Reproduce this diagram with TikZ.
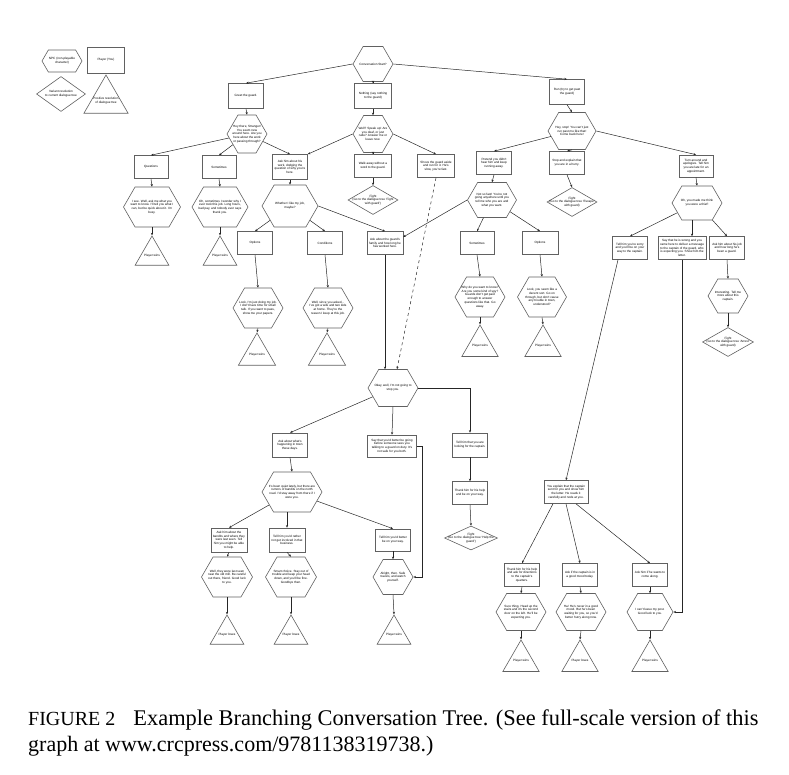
\documentclass[tikz,border=0pt]{standalone}
\usepackage{fontspec}
\setmainfont{Liberation Serif}
\setsansfont{Liberation Sans}
\usetikzlibrary{shapes.geometric,shapes.symbols,arrows.meta}
\newcommand{\tx}[2]{\makebox[0pt]{\parbox{#1pt}{\centering #2}}}
\begin{document}
\begin{tikzpicture}[x=1pt,y=-1pt,
 shp/.style={draw=black!62, line width=0.6pt, fill=white, font=\sffamily\fontsize{3.1}{3.7}\selectfont, inner sep=0pt},
 pbox/.style 2 args={shp, rectangle, minimum width=#1pt, minimum height=#2pt},
 hexa/.style 2 args={shp, signal, signal to=east and west, signal pointer angle=120, minimum width=#1pt, minimum height=#2pt},
 dia/.style 2 args={shp, diamond, minimum width=#1pt, minimum height=#2pt},
 tri/.style={shp, regular polygon, regular polygon sides=3, minimum size=#1pt},
 conn/.style={draw=black!85, line width=0.5pt, -{Stealth[length=2.6pt,width=2.2pt]}},
 captxt/.style={font=\fontsize{22}{26}\selectfont, anchor=base west, inner sep=0pt}
]
\useasboundingbox (0,0) rectangle (789,775);
% legend
\node[hexa={40}{22}] (Lhex) at (62,61) {\tx{28}{NPC (non-playable\\character)}};
\node[pbox={37}{26}] (Lbox) at (106,60) {\tx{32}{Player (You)}};
\node[dia={49}{35}] (Ldia) at (61,94) {\tx{40}{Variant resolution\\to current dialogue tree}};
\node[tri=51] (Ltri) at (106,100.5) {\tx{34}{Positive resolution\\of dialogue tree}};
% top level
\node[hexa={40}{35}] (hTop) at (373,64) {\tx{30}{Conversation Start?}};
\node[pbox={35}{25}] (bGreet) at (246,96) {\tx{30}{Greet the guard.}};
\node[pbox={37}{25}] (bMid) at (373,96) {\tx{32}{Nothing (say nothing\\to the guard)}};
\node[pbox={35}{25}] (bRight) at (567,92) {\tx{30}{Run (try to get past\\the guard)}};
\node[hexa={40}{38}] (hLeft) at (247,134) {\tx{30}{Hey there, Stranger! You seem new around here. Are you here about the work or passing through?}};
\node[hexa={40}{37}] (hMid) at (373,134) {\tx{30}{Well? Speak up! Are you deaf, or just rude? Answer me or leave now.}};
\node[hexa={48}{37}] (hRight) at (572,131) {\tx{34}{Hey, stop! You can't just run past me like that! Come back here!}};
% row 2
\node[pbox={34}{23}] (bQ) at (151,167) {\tx{30}{Questions}};
\node[pbox={34}{23}] (bS1) at (219,167) {\tx{30}{Sometimes}};
\node[pbox={35}{25}] (b290) at (290,167) {\tx{31}{Ask him about his work, dodging the question of why you're here.}};
\node[pbox={37}{23}] (bM2) at (373,166) {\tx{33}{Walk away without a word to the guard.}};
\node[pbox={37}{23}] (b436) at (436,166) {\tx{33}{Shove the guard aside and run for it. He's slow, you're fast.}};
\node[pbox={35}{23}] (b494) at (494,163) {\tx{31}{Pretend you didn't hear him and keep running away.}};
\node[pbox={35}{23}] (b567) at (567,163) {\tx{31}{Stop and explain that you are in a hurry.}};
\node[pbox={34}{22}] (b696) at (696,166) {\tx{30}{Turn around and apologize. Tell him you are late for an appointment.}};
% row 3
\node[hexa={57}{40}] (hQ) at (152,207) {\tx{44}{I see. Well, ask me what you want to know. I'll tell you what I can, but be quick about it. I'm busy.}};
\node[hexa={56}{40}] (hS1) at (220,207) {\tx{44}{Oh, sometimes I wonder why I ever took this job. Long hours, bad pay, and nobody ever says thank you.}};
\node[hexa={56}{42}] (h290) at (290,206) {\tx{40}{Whether I like my job, maybe?}};
\node[dia={50}{29}] (dMid) at (373,200) {\tx{50}{Fight\\(Go to the dialogue tree `Fight\\with guard')}};
\node[hexa={49}{35}] (h492) at (492,200) {\tx{37}{Not so fast! You're not going anywhere until you tell me who you are and what you want.}};
\node[dia={50}{29}] (dRight) at (572,202) {\tx{50}{Fight\\(Go to the dialogue tree `Escape'\\with guard)}};
\node[hexa={50}{34}] (h697) at (697,203) {\tx{36}{Oh, you made me think you were a thief!}};
\node[tri=39] (tQ) at (152,255.5) {\tx{30}{Player wins}};
\node[tri=39] (tS1) at (220,255.5) {\tx{30}{Player wins}};
% row 4
\node[pbox={35}{23}] (bOpt) at (255,243) {\tx{30}{Options}};
\node[pbox={35}{23}] (bCond) at (325,243) {\tx{30}{Conditions}};
\node[pbox={36}{23}] (b385) at (385,243) {\tx{32}{Ask about the guard's family and how long he has worked here.}};
\node[pbox={34}{23}] (bSom2) at (477,243) {\tx{30}{Sometimes}};
\node[pbox={36}{23}] (bOpt2) at (540,243) {\tx{30}{Options}};
\node[pbox={35}{23}] (b630) at (630,248) {\tx{31}{Tell him you're sorry and you'll be on your way to the captain.}};
\node[pbox={48}{23}] (b682) at (682,248) {\tx{44}{Say that he is wrong and you came here to deliver a message to the captain of the guard, who is expecting you. Show him the letter.}};
\node[pbox={35}{23}] (b727) at (727,248) {\tx{31}{Ask him about his job and how long he's been a guard.}};
% row 5
\node[hexa={50}{40}] (hOpt) at (258,308) {\tx{38}{Look, I'm just doing my job. I don't have time for small talk. If you want to pass, show me your papers.}};
\node[hexa={50}{40}] (hCond) at (328,308) {\tx{38}{Well, since you asked... I've got a wife and two kids at home. They're the reason I keep at this job.}};
\node[hexa={50}{40}] (hSom2) at (480,297) {\tx{38}{Why do you want to know? Are you some kind of spy? Guards don't get paid enough to answer questions like that. Go away.}};
\node[hexa={49}{40}] (hOpt2) at (542,297) {\tx{37}{Look, you seem like a decent sort. Go on through, but don't cause any trouble in town, understood?}};
\node[hexa={40}{34}] (h728) at (728,296) {\tx{30}{Interesting. Tell me more about this captain.}};
\node[dia={51}{29}] (d728) at (728,342) {\tx{52}{Fight\\(Go to the dialogue tree `Arrest'\\with guard)}};
\node[tri=43] (tOpt) at (257,354.5) {\tx{30}{Player wins}};
\node[tri=43] (tCond) at (327,354.5) {\tx{30}{Player wins}};
\node[tri=42] (tSom2) at (480,346) {\tx{30}{Player wins}};
\node[tri=42] (tOpt2) at (543,346) {\tx{30}{Player wins}};
% central
\node[hexa={50}{37}] (chex) at (393,388) {\tx{38}{Okay, well, I'm not going to\\stop you.}};
% lower
\node[pbox={35}{24}] (b290L) at (290,445) {\tx{31}{Ask about what's happening in town these days.}};
\node[pbox={49}{22}] (b392L) at (392,446) {\tx{45}{Say that you'd better be going before someone sees you talking to a guard on duty. It's not safe for you both.}};
\node[pbox={35}{24}] (b470) at (470,445) {\tx{31}{Tell him that you are looking for the captain.}};
\node[pbox={35}{23}] (b470b) at (470,493) {\tx{31}{Thank him for his help and be on your way.}};
\node[dia={53}{24}] (d470) at (471,538) {\tx{54}{Fight\\(Go to the dialogue tree `Help the\\guard')}};
\node[hexa={60}{40}] (h292) at (292,492) {\tx{47}{It's been quiet lately, but there are rumors of bandits on the north road. I'd stay away from there if I were you.}};
\node[pbox={36}{24}] (b229) at (229,540) {\tx{32}{Ask him about the bandits and where they were last seen. Tell him you might be able to help.}};
\node[pbox={36}{24}] (b287) at (287,540) {\tx{32}{Tell him you'd rather not get involved in that business.}};
\node[pbox={35}{22}] (b393) at (393,540) {\tx{31}{Tell him you'd better be on your way.}};
\node[hexa={51}{40}] (h227) at (227,577) {\tx{39}{Well, they were last seen near the old mill. Be careful out there, friend. Good luck to you.}};
\node[hexa={51}{40}] (h291) at (291,577) {\tx{39}{Smart choice. Stay out of trouble and keep your head down, and you'll be fine. Goodbye then.}};
\node[hexa={40}{35}] (h393) at (393,577) {\tx{30}{Alright, then. Safe travels, and watch yourself.}};
\node[tri=39] (t227) at (227,634.5) {\tx{30}{Player loses}};
\node[tri=39] (t291) at (291,634.5) {\tx{30}{Player loses}};
\node[tri=39] (t394) at (394,634.5) {\tx{30}{Player wins}};
\node[pbox={44}{23}] (b566) at (566,492) {\tx{40}{You explain that the captain sent for you and show him the letter. He reads it carefully and nods at you.}};
\node[pbox={35}{23}] (b522) at (522,575) {\tx{31}{Thank him for his help and ask for directions to the captain's quarters.}};
\node[pbox={35}{23}] (b580) at (580,575) {\tx{31}{Ask if the captain is in a good mood today.}};
\node[pbox={35}{23}] (b650) at (650,575) {\tx{31}{Ask him if he wants to come along.}};
\node[hexa={50}{37}] (h521) at (521,612) {\tx{38}{Sure thing. Head up the stairs and it's the second door on the left. He'll be expecting you.}};
\node[hexa={50}{37}] (h581) at (581,612) {\tx{38}{Ha! He's never in a good mood. But he's been waiting for you, so you'd better hurry along now.}};
\node[hexa={46}{37}] (h650) at (650,612) {\tx{36}{I can't leave my post. Good luck to you.}};
\node[tri=42] (t521) at (521,661) {\tx{30}{Player wins}};
\node[tri=42] (t580) at (580,661) {\tx{30}{Player loses}};
\node[tri=42] (t650) at (650,661) {\tx{30}{Player wins}};
% connectors
\draw[conn] (hTop.west) -- (bGreet.north);
\draw[conn] (hTop.south) -- (bMid.north);
\draw[conn] (hTop.east) -- (bRight.north);
\draw[conn] (bGreet.south) -- (hLeft.north);
\draw[conn] (bMid.south) -- (hMid.north);
\draw[conn] (bRight.south) -- (hRight.north);
\draw[conn] (hLeft) -- (bQ.north);
\draw[conn] (hLeft) -- (bS1.north);
\draw[conn] (hLeft) -- (b290.north);
\draw[conn] (hMid.west) -- (b290.north east);
\draw[conn] (hMid.south) -- (bM2.north);
\draw[conn] (hMid.east) -- (b436.north);
\draw[conn] (bM2.south) -- (dMid.north);
\draw[conn] (b290.south) -- (h290.north);
\draw[conn] (h290) -- (bOpt.north);
\draw[conn] (h290) -- (bCond.north);
\draw[conn] (h290.east) -- (b385.north);
\draw[conn] (bQ.south) -- (hQ.north);
\draw[conn] (hQ.south) -- (tQ.corner 1);
\draw[conn] (bS1.south) -- (hS1.north);
\draw[conn] (hS1.south) -- (tS1.corner 1);
\draw[conn] (bOpt.south) -- (hOpt.north);
\draw[conn] (hOpt.south) -- (tOpt.corner 1);
\draw[conn] (bCond.south) -- (hCond.north);
\draw[conn] (hCond.south) -- (tCond.corner 1);
\draw[conn] (hRight) -- (b494.north);
\draw[conn] (hRight.south) -- (b567.north);
\draw[conn] (hRight.east) -- (b696.north);
\draw[conn] (b494.south) -- (h492.north);
\draw[conn] (h492) -- (bSom2.north);
\draw[conn] (h492) -- (bOpt2.north);
\draw[conn] (h492.west) -- ([yshift=6pt]b385.east);
\draw[conn] (bSom2.south) -- (hSom2.north);
\draw[conn] (hSom2.south) -- (tSom2.corner 1);
\draw[conn] (bOpt2.south) -- (hOpt2.north);
\draw[conn] (hOpt2.south) -- (tOpt2.corner 1);
\draw[conn] (b567.south) -- (dRight.north);
\draw[conn] (b696.south) -- (h697.north);
\draw[conn] (h697) -- (b630.north);
\draw[conn] ([xshift=-5pt]h697.south) -- ([xshift=-5pt]h697.south |- b682.north);
\draw[conn] (h697) -- (b727.north);
\draw[conn] (b727.south) -- (h728.north);
\draw[conn] (h728.south) -- (d728.north);
\draw[conn] ([xshift=-12pt]b630.south) -- (b566.north);
\draw[conn] (b682.south) |- (h650.east);
\draw[conn, dashed] (b436.south) -- ([xshift=4pt]chex.north);
\draw[conn] (b385.south) -- (b385.south |- chex.north);
\draw[conn] (chex) -- (b290L.north);
\draw[conn] (chex.south) -- (b392L.north);
\draw[conn] (chex.east) -| (b470.north);
\draw[conn] (b470.south) -- (b470b.north);
\draw[conn] (b470b.south) -- (d470.north);
\draw[conn] (b290L.south) -- (h292.north);
\draw[conn] (h292) -- (b229.north);
\draw[conn] ([xshift=-5pt]h292.south) -- (b287.north);
\draw[conn] (h292) -- (b393.north);
\draw[conn] (b392L.east) -- ++(5,0) |- (h393.east);
\draw[conn] (b229.south) -- (h227.north);
\draw[conn] (h227.south) -- (t227.corner 1);
\draw[conn] (b287.south) -- (h291.north);
\draw[conn] (h291.south) -- (t291.corner 1);
\draw[conn] (b393.south) -- (h393.north);
\draw[conn] (h393.south) -- (t394.corner 1);
\draw[conn] ([xshift=-13pt]b566.south) -- (b522.north);
\draw[conn] (b566.south) -- (b580.north);
\draw[conn] ([xshift=10pt]b566.south) -- (b650.north);
\draw[conn] (b522.south) -- (h521.north);
\draw[conn] (h521.south) -- (t521.corner 1);
\draw[conn] (b580.south) -- (h581.north);
\draw[conn] (h581.south) -- (t580.corner 1);
\draw[conn] (b650.south) -- (h650.north);
\draw[conn] (h650.south) -- (t650.corner 1);
% caption
\node[captxt] (c1) at (28,725) {{\fontsize{20}{24}\selectfont FIGURE 2}\hspace{18pt}{\fontsize{22.4}{26}\selectfont Example Branching Conversation Tree. (See full-scale version of this}};
\node[captxt] (c2) at (28,751) {graph at www.crcpress.com/9781138319738.)};
\end{tikzpicture}
\end{document}
